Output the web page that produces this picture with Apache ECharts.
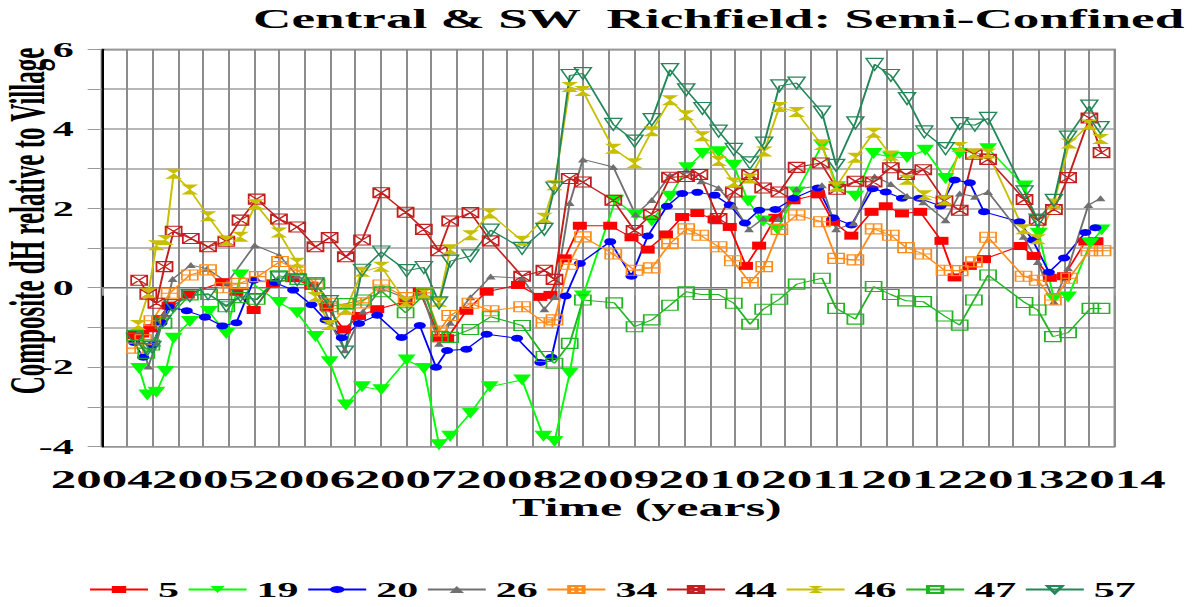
<!DOCTYPE html>
<html>
<head>
<meta charset="utf-8">
<script src="https://cdn.jsdelivr.net/npm/echarts@6.0.0/dist/echarts.min.js"></script>
<style>
html, body { margin: 0; padding: 0; background: #fff; overflow: hidden; }
#wrap { width: 1197px; height: 607px; overflow: hidden; }
/* the source picture is stretched 2x sideways, so draw at half width and stretch */
#chart { width: 598.5px; height: 607px; transform: scaleX(2); transform-origin: 0 0; }
</style>
</head>
<body>
<div id="wrap"><div id="chart"></div></div>
<script>
const FONT = '"Liberation Serif", "Times New Roman", serif'

const seriesNames = ['5', '19', '20', '26', '34', '44', '46', '47', '57']

// [decimal year, dH]
const s5 = [
  [2004.31, -1.19], [2004.40, -1.15], [2004.48, -1.02], [2004.56, -0.80], [2004.66, -0.45], [2004.85, -0.17],
  [2005.19, 0.14], [2005.33, -0.10], [2005.50, -0.56], [2005.69, 0.11], [2005.88, 0.24], [2006.07, 0.05],
  [2006.22, -0.48], [2006.39, -1.05], [2006.54, -0.71], [2006.72, -0.54], [2007.00, -0.35], [2007.14, -0.10],
  [2007.34, -1.27], [2007.41, -1.27], [2007.60, -0.58], [2007.80, -0.10], [2008.11, 0.07], [2008.33, -0.23],
  [2008.43, -0.18], [2008.57, 0.74], [2008.72, 1.56], [2009.02, 1.56], [2009.23, 1.27], [2009.39, 0.96],
  [2009.57, 1.34], [2009.73, 1.78], [2009.88, 1.88], [2010.05, 1.72], [2010.20, 1.53], [2010.36, 0.55],
  [2010.49, 1.06], [2010.65, 1.76], [2010.83, 2.20], [2011.07, 2.35], [2011.22, 1.66], [2011.40, 1.31],
  [2011.60, 1.91], [2011.74, 2.05], [2011.90, 1.87], [2012.08, 1.91], [2012.29, 1.18], [2012.42, 0.26],
  [2012.57, 0.55], [2012.71, 0.72], [2013.07, 1.05], [2013.20, 0.80], [2013.36, 0.25], [2013.50, 0.29],
  [2013.71, 1.16], [2013.82, 1.17],
]
const s19 = [
  [2004.37, -2.03], [2004.45, -2.70], [2004.54, -2.63], [2004.63, -2.11], [2004.71, -1.27], [2004.87, -0.85],
  [2005.06, -0.60], [2005.23, -1.15], [2005.37, 0.32], [2005.75, -0.37], [2005.93, -0.63], [2006.11, -1.23],
  [2006.25, -1.86], [2006.41, -2.95], [2006.57, -2.49], [2006.76, -2.57], [2007.01, -1.82], [2007.18, -2.03],
  [2007.33, -3.95], [2007.44, -3.74], [2007.64, -3.16], [2007.83, -2.49], [2008.15, -2.32], [2008.36, -3.74],
  [2008.47, -3.87], [2008.62, -2.15], [2008.75, -0.21], [2009.07, 2.20], [2009.27, 1.83], [2009.43, 1.68],
  [2009.61, 2.30], [2009.78, 3.02], [2009.93, 3.38], [2010.09, 3.42], [2010.24, 3.08], [2010.38, 2.18],
  [2010.53, 1.68], [2010.67, 1.47], [2010.86, 2.41], [2011.11, 3.59], [2011.26, 2.54], [2011.44, 2.30],
  [2011.62, 3.38], [2011.79, 3.29], [2011.95, 3.28], [2012.13, 3.46], [2012.33, 2.75], [2012.47, 3.38],
  [2012.75, 3.50], [2013.11, 2.56], [2013.25, 1.37], [2013.40, -0.27], [2013.54, -0.23], [2013.76, 1.12],
  [2013.87, 1.45],
]
const s20 = [
  [2004.32, -1.38], [2004.41, -1.75], [2004.50, -1.44], [2004.59, -0.89], [2004.66, -0.48], [2004.84, -0.58],
  [2005.02, -0.74], [2005.19, -0.96], [2005.33, -0.88], [2005.50, 0.19], [2005.71, 0.13], [2005.89, -0.06],
  [2006.07, -0.43], [2006.21, -0.81], [2006.37, -1.26], [2006.54, -0.90], [2006.72, -0.69], [2006.96, -1.25],
  [2007.14, -0.95], [2007.30, -2.00], [2007.41, -1.58], [2007.60, -1.55], [2007.80, -1.17], [2008.10, -1.27],
  [2008.33, -1.88], [2008.44, -1.75], [2008.58, -0.21], [2008.72, 0.61], [2009.02, 1.16], [2009.23, 0.29],
  [2009.39, 1.30], [2009.58, 2.05], [2009.73, 2.37], [2009.88, 2.40], [2010.05, 2.33], [2010.20, 2.08],
  [2010.35, 1.63], [2010.49, 1.95], [2010.65, 1.97], [2010.83, 2.25], [2011.07, 2.51], [2011.22, 1.76],
  [2011.40, 1.58], [2011.61, 2.49], [2011.74, 2.41], [2011.90, 2.25], [2012.07, 2.25], [2012.28, 2.06],
  [2012.42, 2.71], [2012.57, 2.64], [2012.71, 1.91], [2013.06, 1.66], [2013.19, 1.20], [2013.35, 0.39],
  [2013.50, 0.75], [2013.71, 1.39], [2013.81, 1.51],
]
const s26 = [
  [2004.37, -1.10], [2004.46, -1.98], [2004.54, -1.40], [2004.62, -0.66], [2004.70, 0.22], [2004.88, 0.57],
  [2005.04, 0.48], [2005.24, 0.13], [2005.51, 1.07], [2005.75, 0.82], [2005.93, 0.30], [2006.10, 0.07],
  [2006.25, -0.85], [2006.40, -1.57], [2006.58, -0.60], [2006.76, -0.02], [2007.01, -0.27], [2007.16, -0.13],
  [2007.33, -1.41], [2007.44, -0.88], [2007.64, -0.24], [2007.84, 0.28], [2008.15, 0.24], [2008.37, -0.54],
  [2008.47, -0.23], [2008.62, 2.13], [2008.75, 3.23], [2009.05, 3.04], [2009.27, 1.84], [2009.43, 2.21],
  [2009.61, 2.83], [2009.77, 2.95], [2009.92, 2.68], [2010.09, 2.51], [2010.24, 2.06], [2010.39, 1.47],
  [2010.53, 1.74], [2010.68, 1.73], [2010.86, 2.48], [2011.11, 2.58], [2011.25, 1.47], [2011.42, 1.62],
  [2011.63, 2.80], [2011.79, 2.61], [2011.95, 2.31], [2012.11, 2.15], [2012.33, 1.70], [2012.47, 2.37],
  [2012.62, 2.29], [2012.75, 2.41], [2013.10, 1.28], [2013.24, 0.65], [2013.40, -0.35], [2013.54, 0.49],
  [2013.74, 2.08], [2013.86, 2.25],
]
const s34 = [
  [2004.33, -1.52], [2004.41, -1.31], [2004.50, -0.83], [2004.67, -0.14], [2004.87, 0.32], [2005.05, 0.45],
  [2005.20, 0.00], [2005.36, 0.11], [2005.54, 0.28], [2005.76, 0.66], [2005.93, 0.44], [2006.11, 0.12],
  [2006.25, -0.39], [2006.41, -0.54], [2006.56, -0.38], [2006.76, 0.07], [2007.01, -0.25], [2007.19, -0.13],
  [2007.33, -1.09], [2007.44, -0.70], [2007.64, -0.39], [2007.84, -0.58], [2008.15, -0.48], [2008.37, -0.88],
  [2008.47, -0.81], [2008.61, 0.59], [2008.75, 1.28], [2009.05, 0.85], [2009.26, 0.44], [2009.43, 0.50],
  [2009.61, 1.11], [2009.77, 1.48], [2009.91, 1.32], [2010.09, 1.03], [2010.23, 0.68], [2010.40, 0.13],
  [2010.54, 0.53], [2010.69, 1.47], [2010.86, 1.83], [2011.11, 1.66], [2011.25, 0.74], [2011.44, 0.70],
  [2011.62, 1.48], [2011.79, 1.32], [2011.94, 1.01], [2012.11, 0.85], [2012.32, 0.44], [2012.47, 0.43],
  [2012.61, 0.65], [2012.75, 1.27], [2013.10, 0.29], [2013.24, 0.19], [2013.39, -0.31], [2013.55, 0.24],
  [2013.75, 0.93], [2013.88, 0.93],
]
const s44 = [
  [2004.37, 0.19], [2004.46, -0.16], [2004.54, -0.39], [2004.62, 0.53], [2004.71, 1.42], [2004.88, 1.24],
  [2005.05, 1.03], [2005.23, 1.17], [2005.37, 1.70], [2005.53, 2.23], [2005.75, 1.73], [2005.93, 1.53],
  [2006.11, 1.03], [2006.25, 1.26], [2006.41, 0.78], [2006.57, 1.20], [2006.76, 2.39], [2007.00, 1.90],
  [2007.18, 1.47], [2007.33, 0.93], [2007.44, 1.68], [2007.64, 1.89], [2007.84, 1.18], [2008.15, 0.29],
  [2008.37, 0.44], [2008.47, 0.21], [2008.62, 2.75], [2008.75, 2.66], [2009.05, 2.20], [2009.26, 1.44],
  [2009.43, 1.85], [2009.61, 2.78], [2009.77, 2.80], [2009.90, 2.85], [2010.09, 1.74], [2010.24, 2.41],
  [2010.40, 2.85], [2010.53, 2.51], [2010.69, 2.41], [2010.86, 3.03], [2011.10, 3.14], [2011.26, 2.48],
  [2011.44, 2.68], [2011.62, 2.66], [2011.79, 3.02], [2011.94, 2.85], [2012.11, 2.97], [2012.32, 2.19],
  [2012.47, 1.95], [2012.61, 3.36], [2012.75, 3.23], [2013.11, 2.22], [2013.24, 1.70], [2013.40, 1.97],
  [2013.54, 2.77], [2013.75, 4.27], [2013.87, 3.40],
]
const s46 = [
  [2004.36, -0.94], [2004.46, -0.14], [2004.54, 1.07], [2004.63, 1.20], [2004.71, 2.87], [2004.87, 2.47],
  [2005.05, 1.80], [2005.23, 1.18], [2005.37, 1.28], [2005.52, 2.10], [2005.75, 1.39], [2005.93, 0.63],
  [2006.11, -0.23], [2006.25, -0.94], [2006.41, -0.54], [2006.57, 0.40], [2006.76, 0.53], [2007.00, -0.35],
  [2007.18, -0.14], [2007.33, -0.35], [2007.44, 0.97], [2007.64, 1.32], [2007.83, 1.87], [2008.15, 1.18],
  [2008.37, 1.76], [2008.47, 2.58], [2008.62, 5.05], [2008.75, 4.95], [2009.05, 3.50], [2009.26, 3.13],
  [2009.43, 3.94], [2009.61, 4.72], [2009.77, 4.34], [2009.93, 3.81], [2010.09, 3.19], [2010.24, 2.65],
  [2010.40, 2.75], [2010.54, 3.43], [2010.69, 4.55], [2010.86, 4.42], [2011.11, 3.59], [2011.25, 2.54],
  [2011.44, 3.27], [2011.62, 3.90], [2011.79, 3.33], [2011.95, 2.72], [2012.12, 2.33], [2012.32, 2.20],
  [2012.47, 3.54], [2012.61, 3.38], [2012.75, 3.38], [2013.10, 1.47], [2013.24, 1.22], [2013.40, 2.12],
  [2013.55, 3.63], [2013.75, 4.11], [2013.86, 3.74],
]
const s47 = [
  [2004.33, -1.20], [2004.44, -1.65], [2004.49, -1.44], [2004.61, -0.89], [2004.87, -0.18], [2005.06, -0.17],
  [2005.23, -0.48], [2005.36, -0.25], [2005.53, -0.29], [2005.75, 0.30], [2005.94, 0.21], [2006.12, 0.09],
  [2006.25, -0.48], [2006.41, -0.40], [2006.58, -0.31], [2006.77, -0.10], [2007.00, -0.63], [2007.19, -0.16],
  [2007.34, -1.23], [2007.44, -1.25], [2007.64, -1.05], [2007.84, -0.73], [2008.15, -0.95], [2008.37, -1.73],
  [2008.47, -1.90], [2008.62, -1.40], [2008.75, -0.31], [2009.06, -0.38], [2009.26, -0.98], [2009.43, -0.81],
  [2009.61, -0.44], [2009.77, -0.10], [2009.92, -0.17], [2010.09, -0.17], [2010.24, -0.39], [2010.40, -0.92],
  [2010.53, -0.54], [2010.69, -0.29], [2010.86, 0.09], [2011.11, 0.24], [2011.25, -0.52], [2011.44, -0.79],
  [2011.62, 0.03], [2011.79, -0.17], [2011.94, -0.33], [2012.11, -0.35], [2012.32, -0.71], [2012.47, -0.94],
  [2012.61, -0.31], [2012.75, 0.32], [2013.11, -0.37], [2013.24, -0.56], [2013.39, -1.23], [2013.54, -1.13],
  [2013.76, -0.52], [2013.87, -0.52],
]
const s57 = [
  [2004.33, -1.30], [2004.45, -1.55], [2004.50, -1.50], [2004.60, -0.85], [2004.70, -0.45], [2004.87, -0.20],
  [2005.05, -0.15], [2005.23, -0.45], [2005.37, -0.20], [2005.53, -0.30], [2005.75, 0.25], [2005.93, 0.20],
  [2006.11, 0.10], [2006.25, -0.35], [2006.40, -1.62], [2006.57, 0.44], [2006.76, 0.90], [2007.01, 0.43],
  [2007.18, 0.51], [2007.33, -0.38], [2007.44, 0.67], [2007.64, 0.80], [2007.84, 1.45], [2008.15, 0.99],
  [2008.37, 1.47], [2008.47, 2.51], [2008.62, 5.34], [2008.75, 5.39], [2009.05, 4.11], [2009.26, 3.69],
  [2009.43, 4.23], [2009.61, 5.49], [2009.77, 4.98], [2009.93, 4.51], [2010.09, 3.94], [2010.24, 3.48],
  [2010.40, 3.14], [2010.54, 3.64], [2010.69, 5.08], [2010.86, 5.15], [2011.11, 4.42], [2011.25, 3.08],
  [2011.44, 4.15], [2011.63, 5.62], [2011.79, 5.34], [2011.95, 4.76], [2012.12, 3.92], [2012.33, 3.50],
  [2012.47, 4.13], [2012.62, 4.09], [2012.75, 4.26], [2013.11, 2.41], [2013.24, 1.70], [2013.40, 2.20],
  [2013.54, 3.79], [2013.75, 4.57], [2013.86, 4.03],
]
const seriesData = [s5, s19, s20, s26, s34, s44, s46, s47, s57]

// marker shapes
const SQ_PLUS = 'path://M0 0H10V10H0Z M5 0V10 M0 5H10'
const SQ_X = 'path://M0 0H10V10H0Z M0 0L10 10 M10 0L0 10'
const HOURGLASS = 'path://M0 0H10L0 10H10Z'
const TRI_DOWN = 'path://M0 0H10L5 10Z'

const styles = [
  { color: '#ff0000', symbol: 'rect', size: [7, 8], fill: true },
  { color: '#00ff00', symbol: TRI_DOWN, size: [9, 11], fill: true },
  { color: '#0000ff', symbol: 'circle', size: [6, 7], fill: true },
  { color: '#707070', symbol: 'triangle', size: [5, 6], fill: true },
  { color: '#ff8c1a', symbol: SQ_PLUS, size: [8, 10], fill: false },
  { color: '#c41e1e', symbol: SQ_X, size: [8, 10], fill: false },
  { color: '#c8bf00', symbol: HOURGLASS, size: [8.5, 10], fill: true },
  { color: '#22b522', symbol: 'rect', size: [8, 10], fill: false },
  { color: '#24875a', symbol: TRI_DOWN, size: [8.5, 12], fill: false },
]

const series = seriesNames.map((name, i) => {
  const st = styles[i]
  return {
    name,
    type: 'line',
    data: seriesData[i],
    symbol: st.symbol,
    symbolSize: st.size,
    showAllSymbol: true,
    lineStyle: { color: st.color, width: 1 },
    itemStyle: st.fill
      ? { color: st.color, borderWidth: 0 }
      : { color: 'rgba(255,255,255,0)', borderColor: st.color, borderWidth: 1 },
    emphasis: { disabled: true },
  }
})

const chart = echarts.init(document.getElementById('chart'), null, { renderer: 'svg' })
chart.setOption({
  animation: false,
  grid: {
    left: 50.85, top: 49.3, width: 506.5, height: 397.4,
    show: true, borderColor: '#555', borderWidth: 1,
  },
  xAxis: {
    type: 'value', min: 2004, max: 2014, interval: 0.25,
    axisLine: { lineStyle: { color: '#777', width: 1 } },
    axisTick: { show: true, inside: false, length: 8, lineStyle: { color: '#999' } },
    splitLine: { show: true, lineStyle: { color: '#8c8c8c', width: 1 } },
    axisLabel: {
      margin: 20, showMinLabel: true, showMaxLabel: true,
      fontFamily: FONT, fontSize: 25.5, fontWeight: 'bold', color: '#000',
      formatter: (v) => (Math.abs(v - Math.round(v)) < 1e-6 ? String(Math.round(v)) : ''),
    },
  },
  yAxis: {
    type: 'value', min: -4, max: 6, interval: 1,
    axisLine: { show: true, lineStyle: { color: '#000', width: 1 } },
    axisTick: { show: true, length: 7, lineStyle: { color: '#999' } },
    splitLine: { show: true, lineStyle: { color: '#a0a0a0', width: 1.5 } },
    axisLabel: {
      margin: 14, showMinLabel: true, showMaxLabel: true,
      fontFamily: FONT, fontSize: 21, fontWeight: 'bold', color: '#000',
      formatter: (v) => (Math.round(v) % 2 === 0 ? String(Math.round(v)) : ''),
    },
  },
  legend: {
    left: 44, top: 579, orient: 'horizontal', padding: 0,
    itemWidth: 29, itemHeight: 9, itemGap: 3.8,
    textStyle: { fontFamily: FONT, fontSize: 21, fontWeight: 'bold', color: '#000', width: 21 },
    data: seriesNames,
  },
  graphic: [
    {
      type: 'text', x: 126.5, y: 19,
      style: {
        text: 'Central & SW  Richfield: Semi-Confined',
        fontFamily: FONT, fontSize: 26.6, fontWeight: 'bold', fill: '#000',
        textAlign: 'left', textVerticalAlign: 'middle', align: 'left', verticalAlign: 'middle',
      },
    },
    {
      type: 'text', x: 256, y: 508,
      style: {
        text: 'Time (years)',
        fontFamily: FONT, fontSize: 25, fontWeight: 'bold', fill: '#000',
        textAlign: 'left', textVerticalAlign: 'middle', align: 'left', verticalAlign: 'middle',
      },
    },
    {
      type: 'text', x: 14, y: 221, rotation: Math.PI / 2,
      style: {
        text: 'Composite dH relative to Village',
        fontFamily: FONT, fontSize: 25, fontWeight: 'bold', fill: '#000',
        textAlign: 'center', textVerticalAlign: 'middle', align: 'center', verticalAlign: 'middle',
      },
    },
  ],
  series,
})
</script>
</body>
</html>
